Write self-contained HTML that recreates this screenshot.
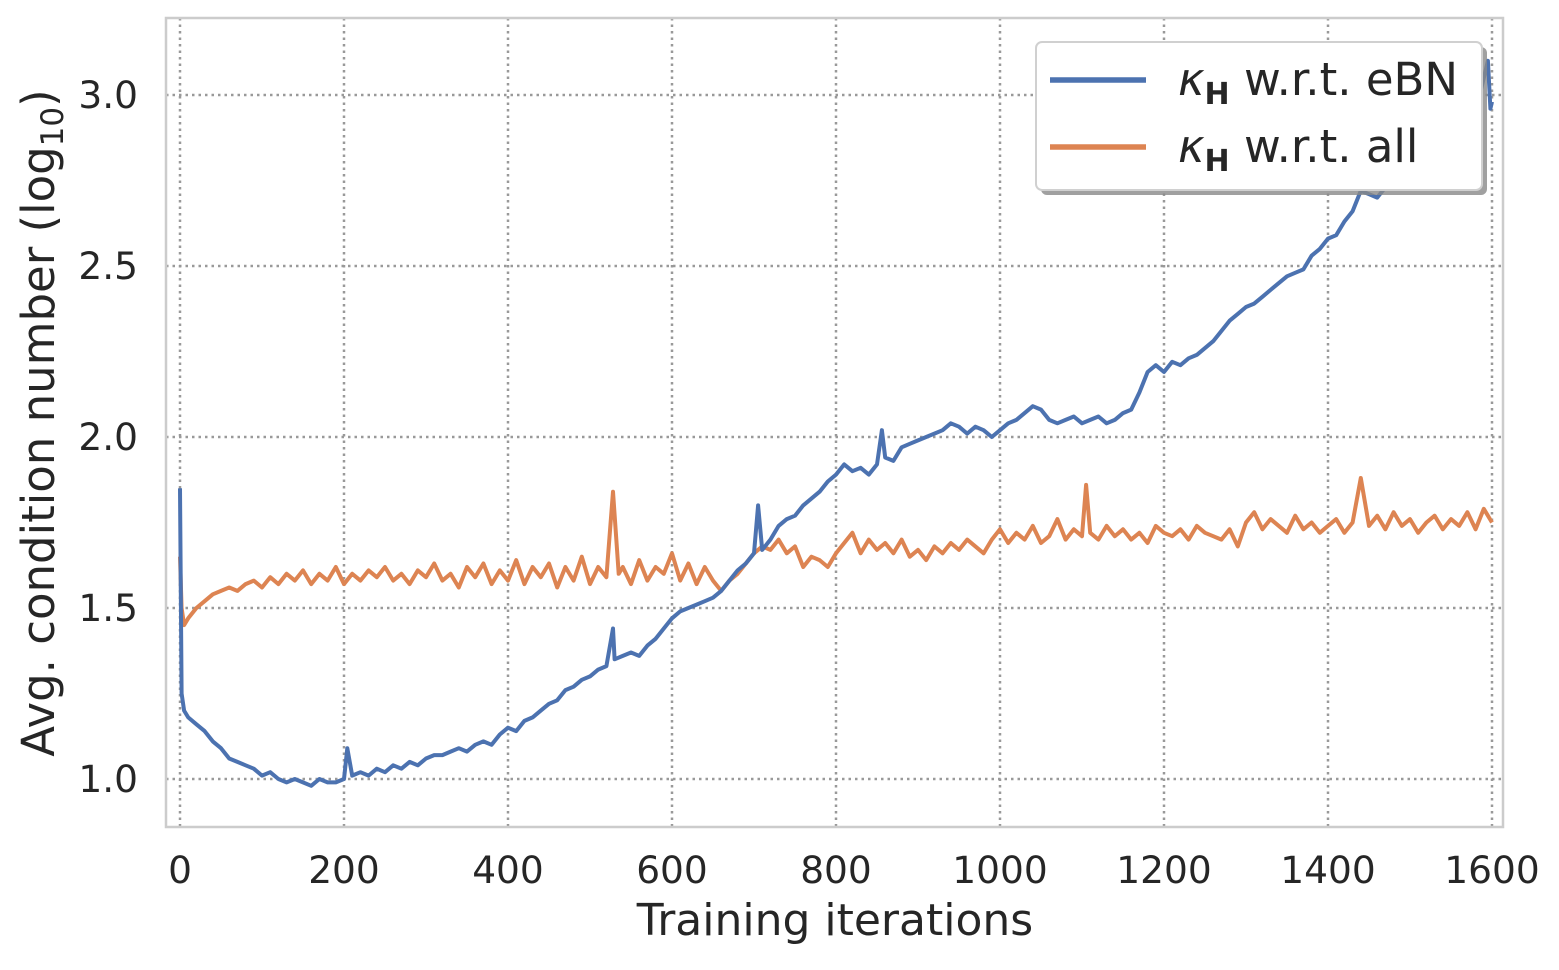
<!DOCTYPE html>
<html><head><meta charset="utf-8"><style>
body{margin:0;background:#fff;}
svg text{font-family:"DejaVu Sans","Liberation Sans",sans-serif;fill:#262626;}
</style></head><body>
<svg id="chart" width="1559" height="965" viewBox="0 0 1559 965" xmlns="http://www.w3.org/2000/svg">
<rect x="0" y="0" width="1559" height="965" fill="#fff"/>
<g id="grid"></g>
<g id="series"></g>
<rect x="166" y="18" width="1337" height="809" fill="none" stroke="#cccccc" stroke-width="2.5"/>
<g id="ticks"></g>
<text x="835" y="935" font-size="44" text-anchor="middle">Training iterations</text>
<text transform="translate(54,423) rotate(-90)" font-size="45" text-anchor="middle">Avg. condition number (log<tspan font-size="31" dy="9">10</tspan><tspan dy="-9">)</tspan></text>
<g>
<rect x="1041" y="47" width="446" height="148" rx="6" fill="#888" opacity="0.8"/>
<rect x="1036" y="42" width="446" height="148" rx="6" fill="#fff" stroke="#d0d0d0" stroke-width="2"/>
<line x1="1050" y1="80" x2="1146" y2="80" stroke="#4c72b0" stroke-width="5.5"/>
<text x="1178" y="95" font-size="45"><tspan font-style="italic">κ</tspan><tspan font-size="30" font-weight="bold" dy="9">H</tspan><tspan dy="-9"> w.r.t. eBN</tspan></text>
<line x1="1050" y1="147" x2="1146" y2="147" stroke="#dd8452" stroke-width="5.5"/>
<text x="1178" y="162" font-size="45"><tspan font-style="italic">κ</tspan><tspan font-size="30" font-weight="bold" dy="9">H</tspan><tspan dy="-9"> w.r.t. all</tspan></text>
</g>
</svg>
<script>
const xTicks=[0,200,400,600,800,1000,1200,1400,1600];
const yTicks=[1.0,1.5,2.0,2.5,3.0];
const yTickLabels=["1.0","1.5","2.0","2.5","3.0"];
const blueX=[0,2,5,10,20,30,40,50,60,70,80,90,100,110,120,130,140,150,160,170,180,190,200,204,210,220,230,240,250,260,270,280,290,300,310,320,330,340,350,360,370,380,390,400,410,420,430,440,450,460,470,480,490,500,510,520,528,530,540,550,560,570,580,590,600,610,620,630,640,650,660,670,680,690,700,705,710,720,730,740,750,760,770,780,790,800,810,820,830,840,850,856,860,870,880,890,900,910,920,930,940,950,960,970,980,990,1000,1010,1020,1030,1040,1050,1060,1070,1080,1090,1100,1110,1120,1130,1140,1150,1160,1170,1180,1190,1200,1210,1220,1230,1240,1250,1260,1270,1280,1290,1300,1310,1320,1330,1340,1350,1360,1370,1380,1390,1400,1410,1420,1430,1440,1450,1460,1470,1480,1490,1500,1520,1540,1560,1580,1595,1598,1600];
const blueY=[1.85,1.25,1.2,1.18,1.16,1.14,1.11,1.09,1.06,1.05,1.04,1.03,1.01,1.02,1.0,0.99,1.0,0.99,0.98,1.0,0.99,0.99,1.0,1.09,1.01,1.02,1.01,1.03,1.02,1.04,1.03,1.05,1.04,1.06,1.07,1.07,1.08,1.09,1.08,1.1,1.11,1.1,1.13,1.15,1.14,1.17,1.18,1.2,1.22,1.23,1.26,1.27,1.29,1.3,1.32,1.33,1.44,1.35,1.36,1.37,1.36,1.39,1.41,1.44,1.47,1.49,1.5,1.51,1.52,1.53,1.55,1.58,1.61,1.63,1.66,1.8,1.67,1.7,1.74,1.76,1.77,1.8,1.82,1.84,1.87,1.89,1.92,1.9,1.91,1.89,1.92,2.02,1.94,1.93,1.97,1.98,1.99,2.0,2.01,2.02,2.04,2.03,2.01,2.03,2.02,2.0,2.02,2.04,2.05,2.07,2.09,2.08,2.05,2.04,2.05,2.06,2.04,2.05,2.06,2.04,2.05,2.07,2.08,2.13,2.19,2.21,2.19,2.22,2.21,2.23,2.24,2.26,2.28,2.31,2.34,2.36,2.38,2.39,2.41,2.43,2.45,2.47,2.48,2.49,2.53,2.55,2.58,2.59,2.63,2.66,2.72,2.71,2.7,2.73,2.75,2.77,2.79,2.83,2.87,2.91,2.95,3.1,2.96,2.98];
const orangeX=[0,2,5,10,20,30,40,50,60,70,80,90,100,110,120,130,140,150,160,170,180,190,200,210,220,230,240,250,260,270,280,290,300,310,320,330,340,350,360,370,380,390,400,410,420,430,440,450,460,470,480,490,500,510,520,528,535,540,550,560,570,580,590,600,610,620,630,640,650,660,670,680,690,700,710,720,730,740,750,760,770,780,790,800,810,820,830,840,850,860,870,880,890,900,910,920,930,940,950,960,970,980,990,1000,1010,1020,1030,1040,1050,1060,1070,1080,1090,1100,1105,1110,1120,1130,1140,1150,1160,1170,1180,1190,1200,1210,1220,1230,1240,1250,1260,1270,1280,1290,1300,1310,1320,1330,1340,1350,1360,1370,1380,1390,1400,1410,1420,1430,1440,1450,1460,1470,1480,1490,1500,1510,1520,1530,1540,1550,1560,1570,1580,1590,1600];
const orangeY=[1.65,1.5,1.45,1.47,1.5,1.52,1.54,1.55,1.56,1.55,1.57,1.58,1.56,1.59,1.57,1.6,1.58,1.61,1.57,1.6,1.58,1.62,1.57,1.6,1.58,1.61,1.59,1.62,1.58,1.6,1.57,1.61,1.59,1.63,1.58,1.6,1.56,1.62,1.59,1.63,1.57,1.61,1.58,1.64,1.57,1.62,1.59,1.63,1.56,1.62,1.58,1.65,1.57,1.62,1.59,1.84,1.6,1.62,1.57,1.64,1.58,1.62,1.6,1.66,1.58,1.63,1.57,1.62,1.58,1.55,1.58,1.6,1.63,1.66,1.68,1.67,1.7,1.66,1.68,1.62,1.65,1.64,1.62,1.66,1.69,1.72,1.66,1.7,1.67,1.69,1.66,1.7,1.65,1.67,1.64,1.68,1.66,1.69,1.67,1.7,1.68,1.66,1.7,1.73,1.69,1.72,1.7,1.74,1.69,1.71,1.76,1.7,1.73,1.71,1.86,1.72,1.7,1.74,1.71,1.73,1.7,1.72,1.69,1.74,1.72,1.71,1.73,1.7,1.74,1.72,1.71,1.7,1.73,1.68,1.75,1.78,1.73,1.76,1.74,1.72,1.77,1.73,1.75,1.72,1.74,1.76,1.72,1.75,1.88,1.74,1.77,1.73,1.78,1.74,1.76,1.72,1.75,1.77,1.73,1.76,1.74,1.78,1.73,1.79,1.75];
const X=v=>180+(v/1600)*1312;
const Y=v=>779-(v-1.0)*342;
const NS="http://www.w3.org/2000/svg";
const grid=document.getElementById('grid'),ticks=document.getElementById('ticks'),ser=document.getElementById('series');
function mk(t,a){const e=document.createElementNS(NS,t);for(const k in a)e.setAttribute(k,a[k]);return e;}
xTicks.forEach(t=>{
 const l=mk('line',{x1:X(t),x2:X(t),y1:18,y2:827,stroke:'#999',"stroke-width":2.5,"stroke-dasharray":"2.5,4"});
 
 
 grid.appendChild(l);
 const tx=mk('text',{x:X(t),y:883,"font-size":37.5,"text-anchor":"middle"});
 tx.textContent=t;
 
 
 ticks.appendChild(tx);
});
yTicks.forEach((t,i)=>{
 const l=mk('line',{x1:166,x2:1503,y1:Y(t),y2:Y(t),stroke:'#999',"stroke-width":2.5,"stroke-dasharray":"2.5,4"});
 
 
 grid.appendChild(l);
 const tx=mk('text',{x:138,y:Y(t)+13,"font-size":37.5,"text-anchor":"end"});
 tx.textContent=yTickLabels[i];
 
 
 ticks.appendChild(tx);
});
function path(xs,ys,c,name){
 const d=xs.map((x,i)=>(i?'L':'M')+X(x).toFixed(1)+','+Y(ys[i]).toFixed(1)).join('');
 const p=mk('path',{d:d,fill:'none',stroke:c,"stroke-width":4,"stroke-linejoin":"round"});
 
 
 ser.appendChild(p);
}
path(orangeX,orangeY,'#dd8452','series-all');
path(blueX,blueY,'#4c72b0','series-ebn');
</script>
</body></html>
